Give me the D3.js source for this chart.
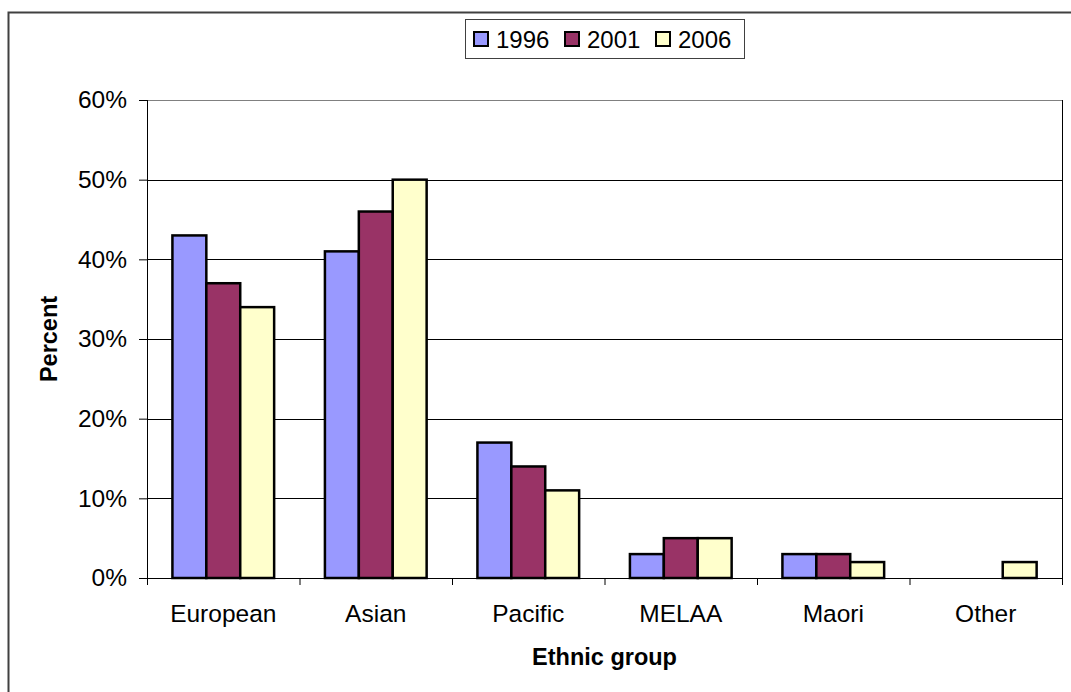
<!DOCTYPE html>
<meta charset="utf-8">
<html>
<head>
<title>Ethnic group chart</title>
<script src="https://d3js.org/d3.v7.min.js"></script>
<style>
  body {margin: 0; background: #fff; font-family: "Liberation Sans", Arial, sans-serif;}
  .axis text {font: 24.5px "Liberation Sans", Arial, sans-serif; fill: #000;}
  .title {font: bold 23.5px "Liberation Sans", Arial, sans-serif;}
</style>
</head>
<body>
<svg id="chart" width="1071" height="692"></svg>
<script>
var categories = ["European", "Asian", "Pacific", "MELAA", "Maori", "Other"];
var years = ["1996", "2001", "2006"];
var v1996 = [43, 41, 17, 3, 3, 0];
var v2001 = [37, 46, 14, 5, 3, 0];
var v2006 = [34, 50, 11, 5, 2, 2];
var yTicks = [0, 10, 20, 30, 40, 50, 60];
var colors = ["#9999FF", "#993366", "#FFFFCC"];

var series = [v1996, v2001, v2006];

var svg = d3.select("#chart"),
    margin = {top: 100, right: 9, bottom: 114, left: 147},
    width = +svg.attr("width") - margin.left - margin.right,
    height = +svg.attr("height") - margin.top - margin.bottom;

// outer chart border (only top and left show in the frame)
svg.append("path")
    .attr("d", "M8.5,700V12.5H1075")
    .attr("fill", "none")
    .attr("stroke", "#404040")
    .attr("stroke-width", 2);

// bars take 2/3 of each category, gap = 150% of one bar
var x0 = d3.scaleBand().domain(categories).range([0, width]);
var x1 = d3.scaleBand().domain(years).range([0, x0.bandwidth() * 0.667]);
var y = d3.scaleLinear().domain([0, 60]).range([height, 0]);

var g = svg.append("g").attr("transform", "translate(" + margin.left + "," + margin.top + ")");

// gridlines
g.selectAll(".grid").data(yTicks.filter(function(d) { return d > 0; })).enter().append("line")
    .attr("x1", 0).attr("x2", width)
    .attr("y1", function(d) { return Math.round(y(d)) + 0.5; })
    .attr("y2", function(d) { return Math.round(y(d)) + 0.5; })
    .attr("stroke", function(d) { return d == 60 ? "#808080" : "#000"; })
    .attr("stroke-width", 1);

// right edge line
g.append("line")
    .attr("x1", width + 0.5).attr("x2", width + 0.5)
    .attr("y1", 0).attr("y2", height + 7)
    .attr("stroke", "#000");

// bars
var groups = g.selectAll(".grp").data(categories).enter().append("g")
    .attr("transform", function(d) { return "translate(" + (x0(d) + x0.bandwidth() * 0.1667) + ",0)"; });

groups.selectAll("rect")
    .data(function(d, i) { return years.map(function(yr, k) { return {k: k, v: series[k][i]}; }); })
    .enter().filter(function(d) { return d.v > 0; }).append("rect")
    .attr("x", function(d) { return x1(years[d.k]); })
    .attr("width", x1.bandwidth())
    .attr("y", function(d) { return y(d.v); })
    .attr("height", function(d) { return height - y(d.v); })
    .attr("fill", function(d) { return colors[d.k]; })
    .attr("stroke", "#000")
    .attr("stroke-width", 2.5);

// axes
var xAxis = d3.axisBottom(x0).tickSize(0).tickPadding(27);
var gx = g.append("g").attr("class", "axis").attr("transform", "translate(0," + height + ")").call(xAxis);
gx.select(".domain").attr("stroke", "#000").attr("d", "M-8,0.5H" + width);
gx.selectAll(".tick text").attr("dy", "0.71em");
// category separator ticks
g.selectAll(".sep").data(categories.concat(["end"])).enter().append("line")
    .attr("x1", function(d, i) { return i * x0.step() + 0.5; })
    .attr("x2", function(d, i) { return i * x0.step() + 0.5; })
    .attr("y1", height).attr("y2", height + 7)
    .attr("stroke", "#000");

var yAxis = d3.axisLeft(y).tickValues(yTicks).tickSize(8).tickPadding(12)
    .tickFormat(function(d) { return d + "%"; });
var gy = g.append("g").attr("class", "axis").call(yAxis);
gy.select(".domain").attr("d", "M0.5,0V" + height).attr("stroke", "#000");
gy.selectAll(".tick line").attr("stroke", "#000");

// axis titles
svg.append("text").attr("class", "title")
    .attr("x", margin.left + width / 2).attr("y", 665)
    .attr("text-anchor", "middle").text("Ethnic group");
svg.append("text").attr("class", "title")
    .attr("transform", "translate(57," + (margin.top + height / 2) + ") rotate(-90)")
    .attr("text-anchor", "middle").text("Percent");

// legend
var legend = svg.append("g").attr("transform", "translate(465,19)");
legend.append("rect").attr("x", 0.5).attr("y", 0.5).attr("width", 279).attr("height", 39)
    .attr("fill", "#fff").attr("stroke", "#404040");
var li = legend.selectAll(".li").data(years).enter().append("g")
    .attr("transform", function(d, i) { return "translate(" + (9 + i * 91) + ",0)"; });
li.append("rect").attr("x", 0).attr("y", 13).attr("width", 14).attr("height", 14)
    .attr("fill", function(d, i) { return colors[i]; })
    .attr("stroke", "#000").attr("stroke-width", 2);
li.append("text").attr("x", 22).attr("y", 29)
    .style("font", "24px 'Liberation Sans', Arial, sans-serif")
    .text(function(d) { return d; });
</script>
</body>
</html>
